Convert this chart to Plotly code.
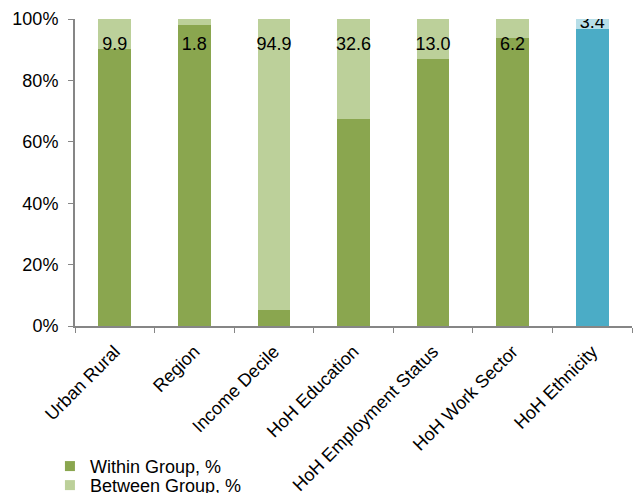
import plotly.graph_objects as go

categories = ["Urban Rural", "Region", "Income Decile", "HoH Education",
              "HoH Employment Status", "HoH Work Sector", "HoH Ethnicity"]
between = [9.9, 1.8, 94.9, 32.6, 13.0, 6.2, 3.4]
within = [round(100 - b, 1) for b in between]
label_y = [91.5, 91.5, 91.5, 91.5, 91.5, 91.5, 98.4]

within_colors = ["#8AA64F"] * 6 + ["#4BACC6"]
between_colors = ["#BCD09A"] * 6 + ["#B7DEE8"]

FONT = "Liberation Sans, Arial, sans-serif"

fig = go.Figure()
fig.add_trace(go.Bar(x=categories, y=within, name="Within Group, %",
                     marker=dict(color=within_colors, line=dict(width=0)),
                     hoverinfo="skip", showlegend=False))
fig.add_trace(go.Bar(x=categories, y=between, name="Between Group, %",
                     marker=dict(color=between_colors, line=dict(width=0)),
                     hoverinfo="skip", showlegend=False))
fig.add_trace(go.Scatter(x=categories, y=label_y, mode="text",
                         text=[f"{b:.1f}" for b in between],
                         textfont=dict(size=18, color="#000000"),
                         showlegend=False, hoverinfo="skip"))
# legend entries (series colours)
fig.add_trace(go.Scatter(x=[None], y=[None], mode="markers", name="Within Group, %",
                         marker=dict(symbol="square", size=10, color="#8AA64F"),
                         legend="legend"))
fig.add_trace(go.Scatter(x=[None], y=[None], mode="markers", name="Between Group, %",
                         marker=dict(symbol="square", size=10, color="#BCD09A"),
                         legend="legend2"))

leg_common = dict(orientation="v", x=-0.045, xanchor="left", yanchor="top",
                  font=dict(size=18, family=FONT), itemwidth=30,
                  bgcolor="rgba(0,0,0,0)")

fig.update_layout(
    barmode="stack", bargap=0.59,
    width=638, height=493,
    margin=dict(l=75, r=6, t=19, b=167, autoexpand=False),
    plot_bgcolor="white", paper_bgcolor="white",
    font=dict(family=FONT, size=18, color="#000000"),
    legend=dict(y=-0.397, **leg_common),
    legend2=dict(y=-0.459, **leg_common),
    showlegend=True,
)
fig.update_xaxes(type="category", tickangle=-45, showline=True, linecolor="#868686",
                 linewidth=2, ticks="outside", tickson="boundaries", ticklen=5,
                 tickcolor="#868686", tickfont=dict(size=18), showgrid=False,
                 automargin=False, ticklabelstandoff=6)
fig.update_yaxes(range=[0, 100], tickvals=[0, 20, 40, 60, 80, 100],
                 ticktext=["0%", "20%", "40%", "60%", "80%", "100%"],
                 showline=True, linecolor="#868686", linewidth=2, ticks="outside",
                 ticklen=5, tickcolor="#868686", showgrid=False, zeroline=False,
                 tickfont=dict(size=18), automargin=False, ticklabelstandoff=6)

fig.write_html("out.html", config={"displayModeBar": False},
               post_script="document.body.style.margin='0';document.body.style.overflow='hidden';")
